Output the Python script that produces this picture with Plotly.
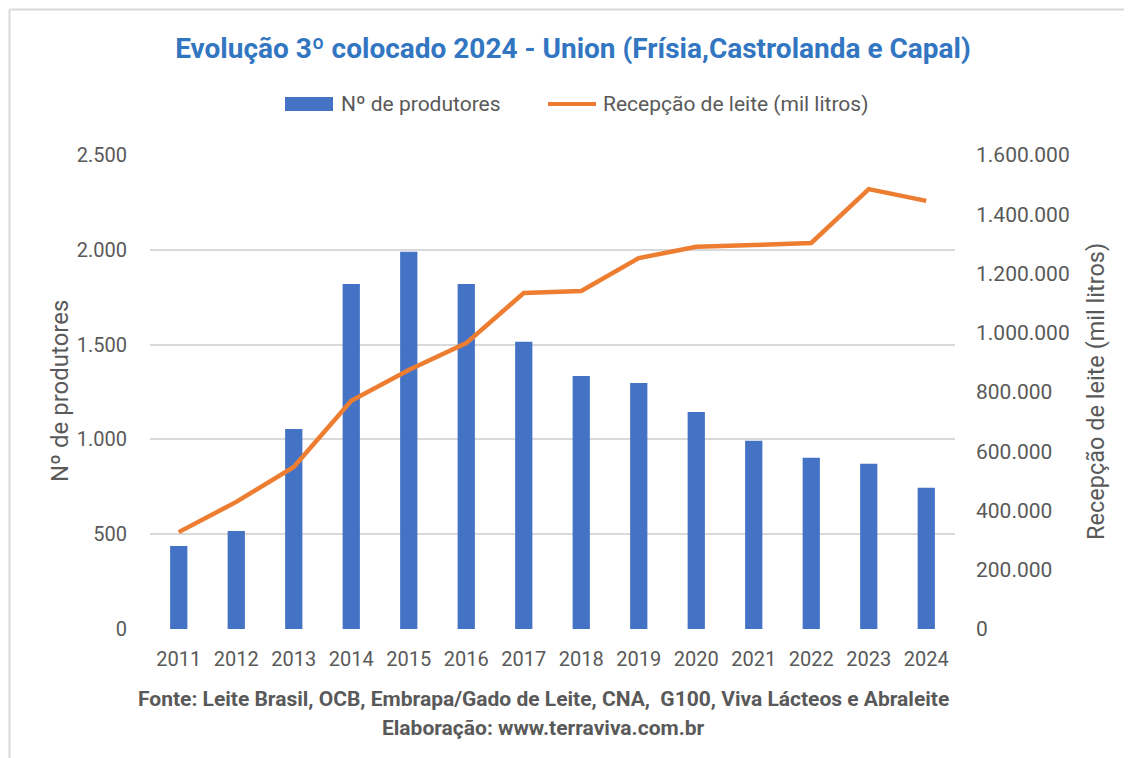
import plotly.graph_objects as go

years = ["2011", "2012", "2013", "2014", "2015", "2016", "2017",
         "2018", "2019", "2020", "2021", "2022", "2023", "2024"]
produtores = [438, 517, 1055, 1820, 1990, 1820, 1515, 1335, 1297, 1145, 993, 903, 872, 745]
recepcao = [327000, 429000, 547000, 770000, 874000, 965000, 1134000,
            1141000, 1252000, 1290000, 1296000, 1303000, 1485000, 1445000]

left_ticks = [0, 500, 1000, 1500, 2000, 2500]
right_ticks = [0, 200000, 400000, 600000, 800000, 1000000, 1200000, 1400000, 1600000]

title = "Evolução 3º colocado 2024 - Union (Frísia,Castrolanda e Capal)"
bar_name = "Nº de produtores"
line_name = "Recepção de leite (mil litros)"
footer1 = "Fonte: Leite Brasil, OCB, Embrapa/Gado de Leite, CNA,  G100, Viva Lácteos e Abraleite"
footer2 = "Elaboração: www.terraviva.com.br"

OFF = 8  # page body margin in the browser
W, H = 1132 - OFF, 758 - OFF
x0, x1 = 150, 955
y_top, y_bot = 155, 629

FONT = "Roboto"
GRAY = "#595959"
BLUE = "#4472C4"
ORANGE = "#ED7D31"


def px(x):
    return (x - OFF) / W


def py(y):
    return 1 - (y - OFF) / H


fig = go.Figure()
fig.add_trace(go.Bar(x=years, y=produtores, name=bar_name,
                     marker=dict(color=BLUE, line=dict(width=0)), yaxis="y"))
fig.add_trace(go.Scatter(x=years, y=recepcao, name=line_name,
                         mode="lines", line=dict(color=ORANGE, width=4.5), yaxis="y2"))

fig.update_layout(
    width=W, height=H,
    autosize=False,
    margin=dict(l=0, r=0, t=0, b=0, pad=0),
    paper_bgcolor="white", plot_bgcolor="white",
    separators=",.",
    bargap=0.7,
    showlegend=False,
    font=dict(family=FONT, color=GRAY, size=19),
    title=dict(text="<b>" + title + "</b>", x=px(573), xanchor="center", xref="paper",
               y=py(48), yanchor="middle", yref="paper",
               font=dict(family=FONT, size=28, color="#3276C2")),
    xaxis=dict(domain=[px(x0), px(x1)], showgrid=False, showline=False, ticks="",
               automargin=False,
               tickfont=dict(family=FONT, size=20, color=GRAY), ticklabelstandoff=16),
    yaxis=dict(domain=[py(y_bot), py(y_top)], range=[0, 2500], tickvals=left_ticks,
               tickformat=",.0f", showgrid=True, gridcolor="#D9D9D9", gridwidth=1.5,
               zeroline=False, showline=False, ticks="", automargin=False,
               tickfont=dict(family=FONT, size=20, color=GRAY), ticklabelstandoff=22),
    yaxis2=dict(overlaying="y", side="right", range=[0, 1600000], tickvals=right_ticks,
                tickformat=",.0f", showgrid=False, zeroline=False, showline=False, ticks="",
                automargin=False,
                tickfont=dict(family=FONT, size=21, color=GRAY), ticklabelstandoff=20),
)

# legend (drawn manually to mimic the wide swatches)
fig.add_shape(type="rect", xref="paper", yref="paper", x0=px(285), x1=px(333),
              y0=py(111), y1=py(97), fillcolor=BLUE, line=dict(width=0))
fig.add_annotation(text=bar_name, xref="paper", yref="paper", x=px(339), y=py(104),
                   xanchor="left", yanchor="middle", showarrow=False,
                   font=dict(family=FONT, size=21, color=GRAY))
fig.add_shape(type="line", xref="paper", yref="paper", x0=px(548), x1=px(596),
              y0=py(104), y1=py(104), line=dict(color=ORANGE, width=4))
fig.add_annotation(text=line_name, xref="paper", yref="paper", x=px(601), y=py(104),
                   xanchor="left", yanchor="middle", showarrow=False,
                   font=dict(family=FONT, size=21, color=GRAY))

fig.add_annotation(text=bar_name, textangle=-90, xref="paper", yref="paper",
                   x=px(60), y=py(391), xanchor="center", yanchor="middle", showarrow=False,
                   font=dict(family=FONT, size=24, color=GRAY))
fig.add_annotation(text=line_name, textangle=-90, xref="paper", yref="paper",
                   x=px(1096), y=py(392), xanchor="center", yanchor="middle", showarrow=False,
                   font=dict(family=FONT, size=23.5, color=GRAY))
fig.add_annotation(text="<b>" + footer1 + "</b>", xref="paper", yref="paper",
                   x=px(543), y=py(699), xanchor="center", yanchor="middle", showarrow=False,
                   font=dict(family=FONT, size=21, color=GRAY))
fig.add_annotation(text="<b>" + footer2 + "</b>", xref="paper", yref="paper",
                   x=px(543), y=py(728), xanchor="center", yanchor="middle", showarrow=False,
                   font=dict(family=FONT, size=21, color=GRAY))

# frame edges
fig.add_shape(type="line", xref="paper", yref="paper", x0=px(9.5), x1=px(9.5), y0=0, y1=py(9.5),
              line=dict(color="#D9D9D9", width=2))
fig.add_shape(type="line", xref="paper", yref="paper", x0=px(9.5), x1=1, y0=py(9.5), y1=py(9.5),
              line=dict(color="#D9D9D9", width=2))

fig.write_html("out.html")
